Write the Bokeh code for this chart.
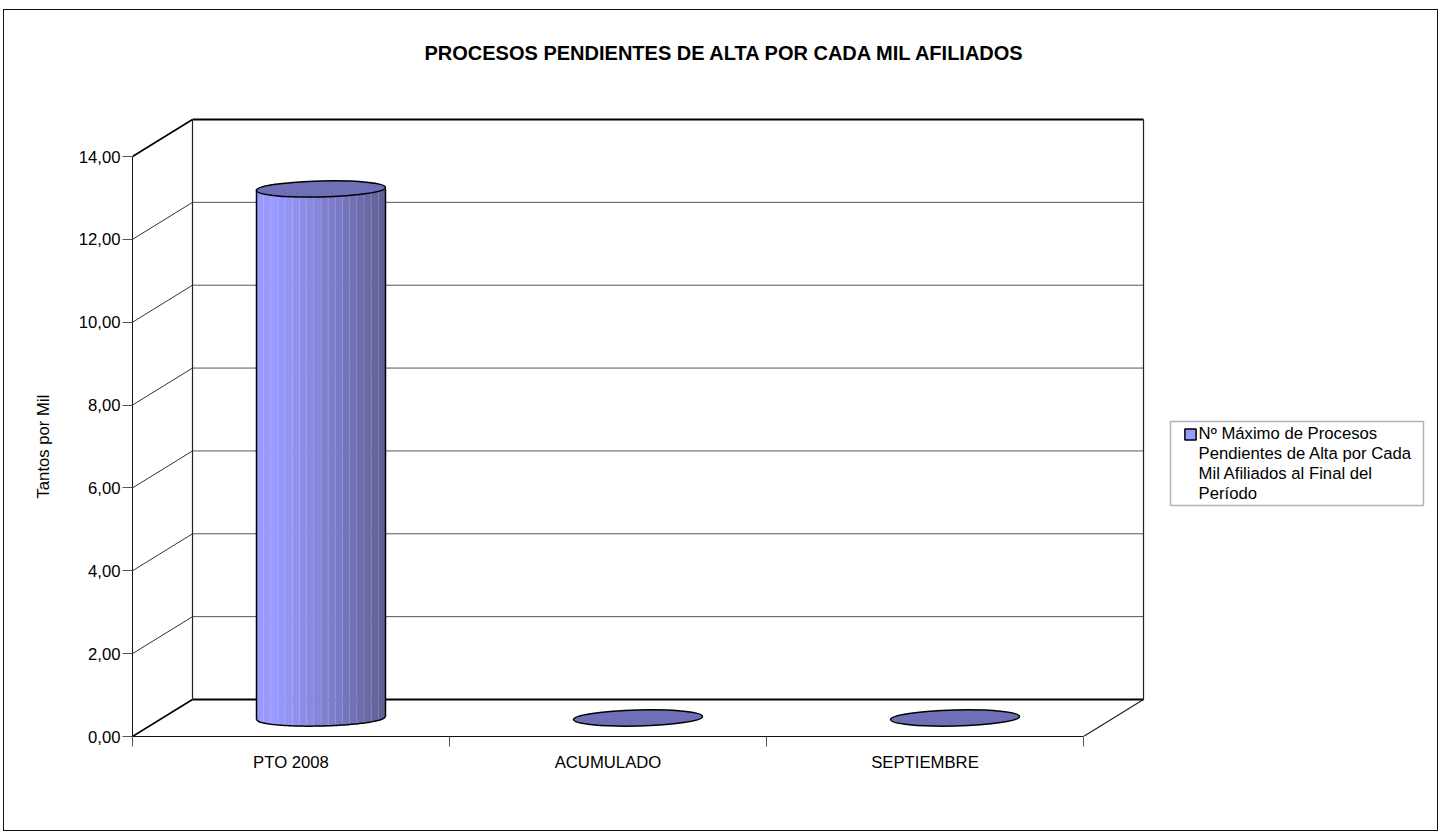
from bokeh.embed import file_html
from bokeh.resources import INLINE
from bokeh.plotting import figure
from bokeh.models import BoxAnnotation, FixedTicker, Legend, LegendItem, Range1d, Title
import numpy as np

# ---- data ----
categories = ["PTO 2008", "ACUMULADO", "SEPTIEMBRE"]
values = [12.77, 0.0, 0.0]
y_ticks = [0, 2, 4, 6, 8, 10, 12, 14]
y_tick_labels = ["0,00", "2,00", "4,00", "6,00", "8,00", "10,00", "12,00", "14,00"]
title_text = "PROCESOS PENDIENTES DE ALTA POR CADA MIL AFILIADOS"
y_label = "Tantos por Mil"
legend_lines = ["Nº Máximo de Procesos", "Pendientes de Alta por Cada", "Mil Afiliados al Final del", "Período"]

# ---- 3-D look (pixel scale of the drawing) ----
OX, OY = 4, 10                            # where the chart box starts on the page
W, H = 1433, 820
FL, FR, FT, FB = 132, 1432, 90, 736       # frame in page pixels
PX_X = 317.0                              # px per category
PX_Y = 580.0 / 14                         # px per value unit
DX = 60 / PX_X                            # depth in category units
DY = 37 / PX_Y                            # depth in value units
FONT = "Liberation Sans"
BODY = 16.7
n = len(categories)

p = figure(width=W, height=H, output_backend="svg", toolbar_location=None,
           x_range=Range1d(0, (FR - FL) / PX_X), y_range=Range1d(0, (FB - FT) / PX_Y),
           min_border_left=FL - OX, min_border_right=W + OX - FR,
           min_border_top=FT - OY, min_border_bottom=H + OY - FB,
           background_fill_color="white", border_fill_color="white",
           outline_line_color=None)
p.margin = (OY, 0, 0, OX)
p.styles = {"outline": "1.5px solid #111111"}
p.grid.visible = False

# ---- axes ----
ya = p.yaxis[0]
ya.ticker = FixedTicker(ticks=y_ticks)
ya.major_label_overrides = {t: s for t, s in zip(y_ticks, y_tick_labels)}
ya.bounds = (0, 14)
ya.major_tick_out = 10
ya.major_tick_in = 0
ya.major_tick_line_color = "#555555"
ya.minor_tick_line_color = None
ya.axis_line_color = "#111111"
ya.major_label_text_font = FONT
ya.major_label_text_font_size = f"{BODY}px"
ya.major_label_text_color = "#000000"
ya.major_label_standoff = 2

xa = p.xaxis[0]
centers = [i + 0.5 for i in range(n)]
xa.ticker = FixedTicker(ticks=centers, minor_ticks=list(range(n + 1)))
xa.major_label_overrides = {c: s for c, s in zip(centers, categories)}
xa.bounds = (0, n)
xa.major_tick_line_color = None
xa.minor_tick_out = 10
xa.minor_tick_in = 0
xa.minor_tick_line_color = "#555555"
xa.axis_line_color = "#111111"
xa.major_label_text_font = FONT
xa.major_label_text_font_size = f"{BODY}px"
xa.major_label_text_color = "#000000"
xa.major_label_standoff = 6

# ---- walls and grid ----
mid = y_ticks[1:-1]
p.segment(x0=[DX] * len(mid), y0=[t + DY for t in mid], x1=[n + DX] * len(mid), y1=[t + DY for t in mid],
          line_color="#555555", line_width=1)
p.segment(x0=[0] * len(mid), y0=mid, x1=[DX] * len(mid), y1=[t + DY for t in mid],
          line_color="#333333", line_width=1)
p.segment(x0=[DX, DX], y0=[14 + DY, DY], x1=[n + DX, n + DX], y1=[14 + DY, DY],
          line_color="#000000", line_width=2)
p.segment(x0=[0, 0], y0=[14, 0], x1=[DX, DX], y1=[14 + DY, DY], line_color="#000000", line_width=1.6)
p.segment(x0=[DX, n + DX, n], y0=[DY, DY, 0], x1=[DX, n + DX, n + DX], y1=[14 + DY, 14 + DY, DY],
          line_color="#222222", line_width=1.2)

# ---- cylinders ----
CYL_W = 129 / PX_X
ELL_H = 16 / PX_Y
TILT = 3.0 / PX_Y
base_y = DY / 2
cx = [i + 0.5 + DX / 2 for i in range(n)]
TOP_COLOR = "#6F6FB8"


def lerp(a, b, t):
    return tuple(a[k] + (b[k] - a[k]) * t for k in range(3))


def hexc(c):
    return "#%02x%02x%02x" % tuple(int(round(v)) for v in c)


def curve(x, c):
    u = (x - c) / (CYL_W / 2)
    return base_y + TILT / 2 * u - ELL_H / 2 * np.sqrt(np.clip(1 - u * u, 0, 1))


NSTR = 18
light = (153, 153, 255)
dark = (96, 96, 150)
for c, v in zip(cx, values):
    if v <= 0:
        continue
    edges = np.linspace(c - CYL_W / 2, c + CYL_W / 2, NSTR + 1)
    xs, ys, cols = [], [], []
    for i in range(NSTR):
        xx = np.linspace(edges[i], edges[i + 1], 6)
        yy_bot = curve(xx, c)
        xs.append(list(xx) + [edges[i + 1], edges[i]])
        ys.append(list(yy_bot) + [base_y + v, base_y + v])
        t = i / (NSTR - 1)
        cols.append(hexc(lerp(light, dark, max(0.0, (t - 0.12) / 0.88) ** 1.15)))
    p.patches(xs, ys, fill_color=cols, line_color=cols, line_width=0.5)
    p.segment(x0=edges[1:-1], y0=curve(edges[1:-1], c), x1=edges[1:-1], y1=[base_y + v] * (NSTR - 1),
              line_color="#ffffff", line_alpha=0.16, line_width=1)
    xx = np.linspace(c - CYL_W / 2, c + CYL_W / 2, 80)
    p.line(list(xx), list(curve(xx, c)), line_color="#000000", line_width=1.5)
    p.segment(x0=[c - CYL_W / 2, c + CYL_W / 2], y0=[base_y - TILT / 2, base_y + TILT / 2],
              x1=[c - CYL_W / 2, c + CYL_W / 2], y1=[base_y + v, base_y + v],
              line_color="#000000", line_width=1.5)

p.ellipse(x=cx, y=[base_y + v for v in values], width=[CYL_W] * n, height=[ELL_H] * n,
          angle=np.arctan2(3.0, 129.0), fill_color=TOP_COLOR, line_color="#000000", line_width=1.5)

# ---- title and y-axis label ----
title = Title(text=title_text, align="left", offset=424 - FL, standoff=54,
              text_font=FONT, text_font_size="20px", text_font_style="bold", text_color="#000000")
p.add_layout(title, "above")
ytitle = Title(text=y_label, align="left", offset=FB - 498, standoff=46,
               text_font=FONT, text_font_size=f"{BODY}px", text_font_style="normal", text_color="#000000")
p.add_layout(ytitle, "left")

# ---- legend ----
p.add_layout(BoxAnnotation(left=1170 - OX, right=1423 - OX, top=421 - OY, bottom=505 - OY,
                           left_units="canvas", right_units="canvas", top_units="canvas", bottom_units="canvas",
                           fill_color="white", fill_alpha=1, line_color="#000000", line_width=1.5, level="glyph"))
swatch = p.quad(left=[float("nan")], right=[float("nan")], top=[float("nan")], bottom=[float("nan")],
                fill_color="#9999FF", line_color="#000000", line_width=1.5)
blank = p.quad(left=[float("nan")], right=[float("nan")], top=[float("nan")], bottom=[float("nan")],
               fill_alpha=0, line_alpha=0)
items = [LegendItem(label=legend_lines[0], renderers=[swatch])] + \
        [LegendItem(label=s, renderers=[blank]) for s in legend_lines[1:]]
legend = Legend(items=items, location=(1182.6 - FL, FB - 503.5), orientation="vertical",
                label_text_font=FONT, label_text_font_size=f"{BODY}px", label_text_color="#000000",
                label_height=19, glyph_width=14, glyph_height=14, label_standoff=2,
                padding=0, margin=0, spacing=0,
                border_line_color=None, background_fill_alpha=0)
p.add_layout(legend, "center")

open("out.html", "w").write(file_html(p, INLINE))
